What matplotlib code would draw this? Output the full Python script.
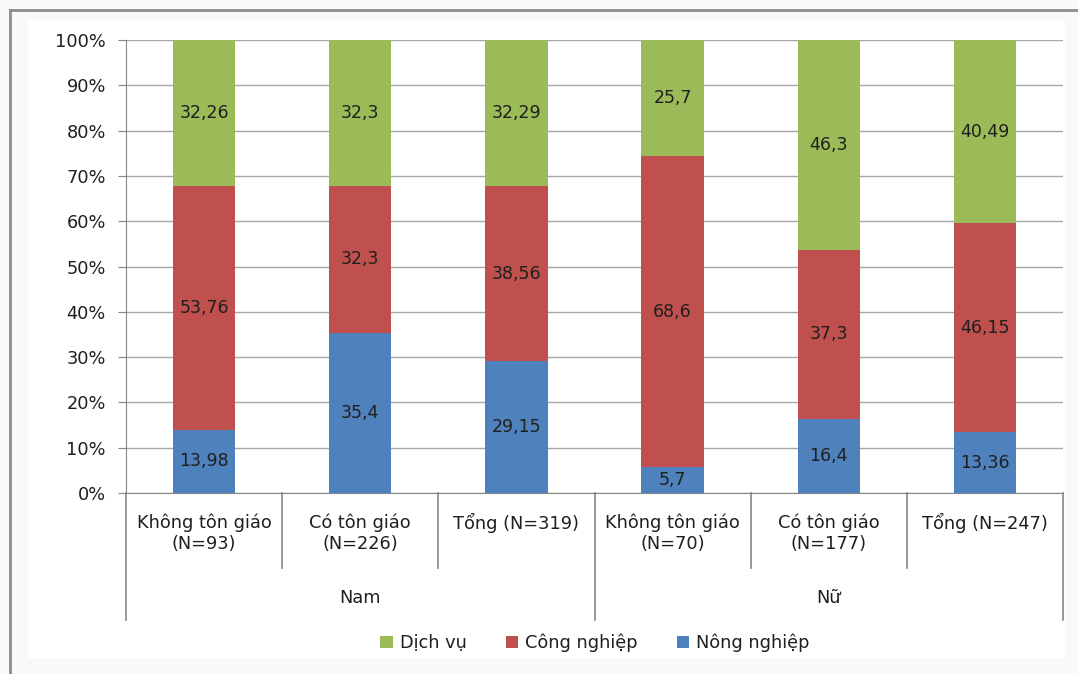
import matplotlib
matplotlib.use('Agg')
import matplotlib.pyplot as plt
import matplotlib.transforms as mtransforms
from matplotlib.patches import Rectangle
from matplotlib.lines import Line2D
import numpy as np

plt.rcParams['font.family'] = ['DejaVu Sans']

# stacked shares (%) per category, bottom to top
categories = ['Không tôn giáo\n(N=93)', 'Có tôn giáo\n(N=226)', 'Tổng (N=319)',
              'Không tôn giáo\n(N=70)', 'Có tôn giáo\n(N=177)', 'Tổng (N=247)']
groups = ['Nam', 'Nữ']
nong_nghiep = [13.98, 35.4, 29.15, 5.7, 16.4, 13.36]
cong_nghiep = [53.76, 32.3, 38.56, 68.6, 37.3, 46.15]
dich_vu = [32.26, 32.3, 32.29, 25.7, 46.3, 40.49]
nong_labels = ['13,98', '35,4', '29,15', '5,7', '16,4', '13,36']
cong_labels = ['53,76', '32,3', '38,56', '68,6', '37,3', '46,15']
dich_labels = ['32,26', '32,3', '32,29', '25,7', '46,3', '40,49']

series = [('Nông nghiệp', nong_nghiep, nong_labels, '#4F81BD'),
          ('Công nghiệp', cong_nghiep, cong_labels, '#C0504D'),
          ('Dịch vụ', dich_vu, dich_labels, '#9BBB59')]

W, H = 1078, 674
fig = plt.figure(figsize=(W / 100, H / 100), dpi=100, facecolor='#f9f9f9')

# white chart area and the partial frame
fig.patches.append(Rectangle((28 / W, 1 - 658 / H), (1065 - 28) / W, (658 - 20) / H,
                             transform=fig.transFigure, facecolor='white', edgecolor='none', zorder=-5))
fig.lines.append(Line2D([10 / W, 10 / W], [0, 1 - 10 / H], transform=fig.transFigure,
                        color='#8c8c8c', lw=2))
fig.lines.append(Line2D([10 / W, 1], [1 - 10 / H, 1 - 10 / H], transform=fig.transFigure,
                        color='#8c8c8c', lw=2))

ax_l, ax_r, ax_t, ax_b = 126, 1063, 40, 493
ax = fig.add_axes([ax_l / W, 1 - ax_b / H, (ax_r - ax_l) / W, (ax_b - ax_t) / H])
ax.set_facecolor('white')
ax.set_zorder(2)

x = np.arange(len(categories))
bottom = np.zeros(len(categories))
for name, vals, labs, color in series:
    vals = np.array(vals)
    ax.bar(x, vals, 0.4, bottom=bottom, color=color, label=name, zorder=3)
    for xi, b, v, lab in zip(x, bottom, vals, labs):
        ax.text(xi, b + v / 2, lab, ha='center', va='center', fontsize=12.5,
                color='#1f1f1f', zorder=4)
    bottom += vals

ax.set_xlim(-0.5, len(categories) - 0.5)
ax.set_ylim(0, 100)
ax.set_yticks(np.arange(0, 101, 10))
ax.set_yticklabels([f'{v}%' for v in range(0, 101, 10)])
ax.yaxis.grid(True, color='#a6a6a6', lw=1, zorder=0)
ax.set_axisbelow(True)
ax.tick_params(axis='y', length=6, color='#868686', labelsize=12.8, labelcolor='#1f1f1f', pad=8.5)
ax.set_xticks([])
for s in ['top', 'right']:
    ax.spines[s].set_visible(False)
for s in ['left', 'bottom']:
    ax.spines[s].set_color('#868686')

# category separators below the axis
axh = ax_b - ax_t
trans = mtransforms.blended_transform_factory(ax.transData, ax.transAxes)
for i in range(len(categories) + 1):
    depth = 127 if i % 3 == 0 else 75
    ax.plot([i - 0.5, i - 0.5], [0, -depth / axh], transform=trans, color='#868686',
            lw=1.2, clip_on=False)

for xi, cat in zip(x, categories):
    ax.text(xi, -20 / axh, cat, transform=trans, ha='center', va='top',
            fontsize=12.8, color='#1f1f1f', linespacing=1.25)
for gi, g in enumerate(groups):
    ax.text(gi * 3 + 1, -(598 - ax_b) / axh, g, transform=trans, ha='center', va='center',
            fontsize=12.8, color='#1f1f1f')

handles, labels = ax.get_legend_handles_labels()
fig.legend(handles[::-1], labels[::-1], loc='center', bbox_to_anchor=(595 / W, 1 - 643 / H),
           ncol=3, frameon=False, fontsize=12.8, handlelength=0.7, handleheight=0.7,
           handletextpad=0.4, columnspacing=2.2, labelcolor='#1f1f1f')

fig.savefig('out.png', dpi=100, facecolor=fig.get_facecolor())
